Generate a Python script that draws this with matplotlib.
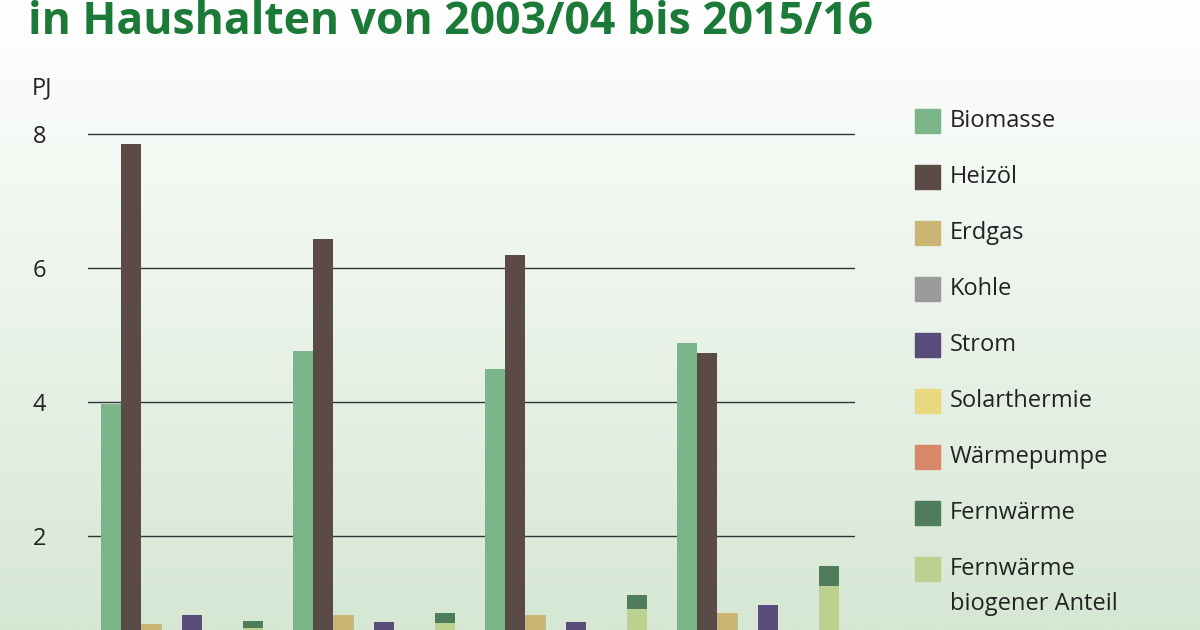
import numpy as np
import matplotlib.pyplot as plt
from matplotlib.patches import Rectangle
from matplotlib.colors import LinearSegmentedColormap

plt.rcParams['font.family'] = ['Open Sans', 'DejaVu Sans']

# data (PJ)
years = ['2003/04', '2007/08', '2011/12', '2015/16']
biomasse = [3.97, 4.76, 4.49, 4.87]
heizoel = [7.84, 6.43, 6.19, 4.73]
erdgas = [0.69, 0.82, 0.82, 0.85]
kohle = [0.35, 0.2, 0.1, 0.05]
strom = [0.82, 0.72, 0.72, 0.97]
solar = [0.1, 0.2, 0.3, 0.35]
waermepumpe = [0.05, 0.1, 0.2, 0.3]
fw_bio = [0.62, 0.70, 0.91, 1.25]
fw_total = [0.73, 0.85, 1.12, 1.55]

legend_labels = ['Biomasse', 'Heizöl', 'Erdgas', 'Kohle', 'Strom', 'Solarthermie',
                 'Wärmepumpe', 'Fernwärme', 'Fernwärme', 'biogener Anteil']
colors = ['#7db58a', '#5b4b47', '#ccb675', '#9b9b9b', '#574c7c', '#e8d87f',
          '#d9876a', '#4f7d5b', '#bad190']

fig = plt.figure(figsize=(12, 6.3), dpi=100)

# background gradient
bg = fig.add_axes([0, 0, 1, 1], zorder=-10)
cmap = LinearSegmentedColormap.from_list('bg', ['#ffffff', '#d6e7d4'])
bg.imshow(np.linspace(0, 1, 256).reshape(-1, 1), aspect='auto', cmap=cmap, extent=[0, 1, 0, 1])
bg.axis('off')

ax = fig.add_axes([88/1200, -40/630, 767/1200, 570/630])
ax.patch.set_alpha(0)
ax.set_xlim(88, 855)
ax.set_ylim(0, 8.5)

series = [biomasse, heizoel, erdgas, kohle, strom, solar, waermepumpe]
w = 20.3
for g in range(len(years)):
    base = 111 + g*192
    for k, s in enumerate(series):
        ax.bar(base + k*w, s[g], width=w, color=colors[k], zorder=3)
    xf = base + 7*w
    ax.bar(xf, fw_bio[g], width=w, color=colors[8], zorder=3)
    ax.bar(xf, fw_total[g] - fw_bio[g], bottom=fw_bio[g], width=w, color=colors[7], zorder=3)

ax.set_yticks([2, 4, 6, 8])
ax.set_yticklabels(['2', '4', '6', '8'], fontsize=17, color='#222222')
ax.tick_params(axis='y', length=0, pad=30)
ax.set_xticks([])
ax.yaxis.grid(True, color='#333333', linewidth=1, zorder=0)
for sp in ax.spines.values():
    sp.set_visible(False)

fig.text(42/1200, 1 - 88/630, 'PJ', fontsize=17, color='#222222', va='center', ha='center')
fig.text(28/1200, 1 - 22/630, 'in Haushalten von 2003/04 bis 2015/16', fontsize=32,
         fontweight='bold', color='#1c7a38', va='center', ha='left')

# legend
rows = [121, 177, 233, 289, 345, 401, 457, 513, 569, 604]
for i, (lab, y) in enumerate(zip(legend_labels, rows)):
    if i < len(colors):
        fig.add_artist(Rectangle((915/1200, 1 - (y + 12)/630), 25/1200, 24/630,
                                 transform=fig.transFigure, color=colors[i]))
    fig.text(950/1200, 1 - y/630, lab, fontsize=17, color='#222222',
             va='center', ha='left')

fig.savefig('out.png', dpi=100)
